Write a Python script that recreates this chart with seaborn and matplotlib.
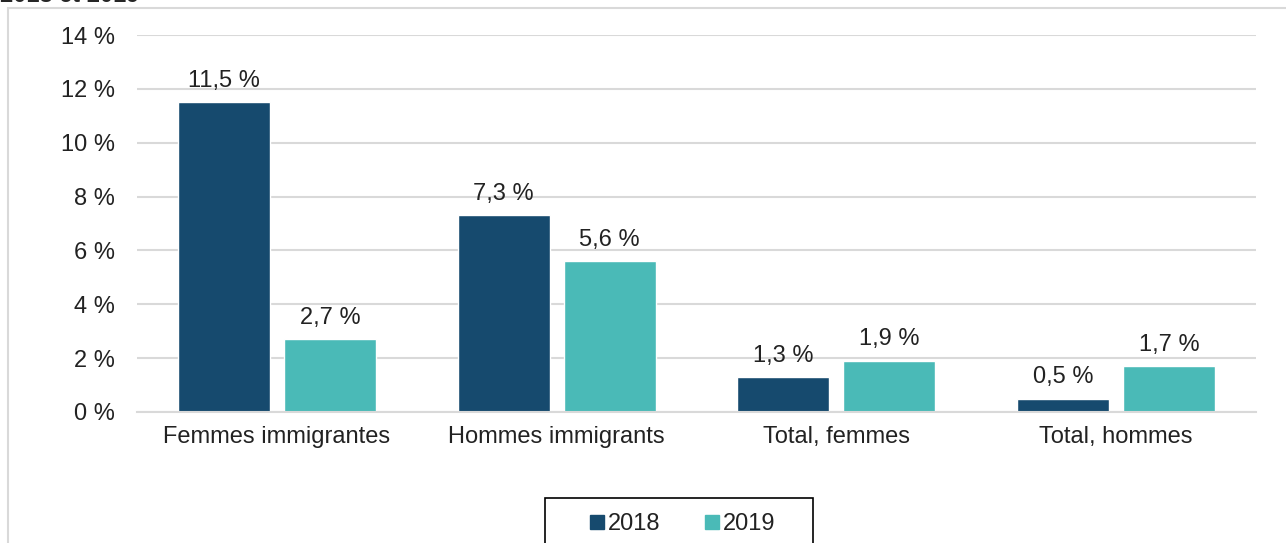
import numpy as np
import pandas as pd
import seaborn as sns
import matplotlib.pyplot as plt
from matplotlib.patches import Rectangle
from matplotlib.lines import Line2D

categories = ["Femmes immigrantes", "Hommes immigrants", "Total, femmes", "Total, hommes"]
years = ["2018", "2019"]
values_2018 = [11.5, 7.3, 1.3, 0.5]
values_2019 = [2.7, 5.6, 1.9, 1.7]
colors = ["#164A6E", "#4ABAB7"]

data = pd.DataFrame({
    "categorie": categories * 2,
    "annee": ["2018"] * 4 + ["2019"] * 4,
    "valeur": values_2018 + values_2019,
})

sns.set_style("white")
plt.rcParams["font.family"] = ["Liberation Sans", "DejaVu Sans"]

W, H = 1286, 543
fig = plt.figure(figsize=(W / 100, H / 100), dpi=100)
ax = fig.add_axes([137 / W, 1 - 412 / H, 1119 / W, 377 / H])

# light grey chart border (cut by the image edges)
fig.patches.append(Rectangle((8 / W, -0.1), 1.2, 1 - 8 / H + 0.1,
                             transform=fig.transFigure, fill=False,
                             edgecolor="#D9D9D9", linewidth=1.5))
# title, mostly cut off at the top like the reference
fig.text(0.0, 1 - 2.5 / H, "2018 et 2019", fontsize=17, fontweight="bold",
         va="baseline", ha="left")

sns.barplot(data=data, x="categorie", y="valeur", hue="annee", order=categories,
            hue_order=years, palette=colors, width=0.757, gap=0.132,
            saturation=1, legend=False, ax=ax)

for cont in ax.containers:
    labels = [f"{v:.1f}".replace(".", ",") + " %" for v in cont.datavalues]
    ax.bar_label(cont, labels=labels, padding=7.5, fontsize=17, color="#222222")

ax.set_ylim(0, 14)
ax.set_xlim(-0.5, 3.5)
ax.set_yticks(range(0, 15, 2))
ax.set_yticklabels([f"{t} %" for t in range(0, 15, 2)])
ax.yaxis.grid(True, color="#D9D9D9", linewidth=1.5)
ax.set_axisbelow(True)
for s in ["top", "right", "left"]:
    ax.spines[s].set_visible(False)
ax.spines["bottom"].set_color("#D9D9D9")
ax.spines["bottom"].set_linewidth(1.5)
ax.tick_params(axis="y", length=0, pad=16, labelsize=17, labelcolor="#222222")
ax.tick_params(axis="x", length=0, pad=10, labelsize=17, labelcolor="#222222")
ax.set_xlabel("")
ax.set_ylabel("")

# legend: box drawn separately, entries without frame
fig.patches.append(Rectangle((545 / W, -0.1), 268 / W, 1 - 498 / H + 0.1,
                             transform=fig.transFigure, fill=False,
                             edgecolor="black", linewidth=1.2))
handles = [Line2D([], [], marker="s", linestyle="none", markersize=9.5,
                  markerfacecolor=c, markeredgecolor=c) for c in colors]
leg = fig.legend(handles, years, loc="center", bbox_to_anchor=(683 / W, 1 - 524 / H),
                 ncol=2, fontsize=17, frameon=False,
                 handlelength=0.55, handletextpad=0.2, columnspacing=1.9,
                 borderpad=0, borderaxespad=0)
for t in leg.get_texts():
    t.set_color("#222222")

fig.savefig("out.png", dpi=100)
